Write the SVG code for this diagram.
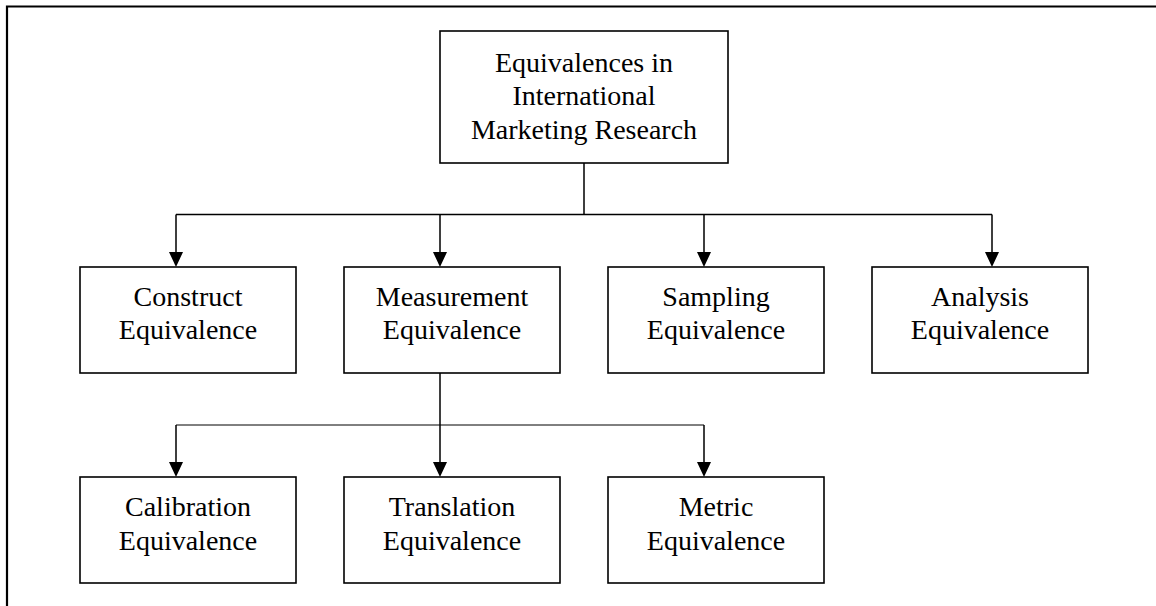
<svg xmlns="http://www.w3.org/2000/svg" width="1156" height="606" viewBox="0 0 1156 606">
<style>
.box{fill:#fff;stroke:#000;stroke-width:1.6}
.t{font-family:"Liberation Serif","Times New Roman",serif;font-size:28px;fill:#000;text-anchor:middle}
.c{fill:none;stroke:#000;stroke-width:1.5}
.thin{fill:none;stroke:#000;stroke-width:1}
.ah{fill:#000}
</style>
<rect width="1156" height="606" fill="#fff"/>
<path d="M7,606 V6.5 H1156" fill="none" stroke="#000" stroke-width="2.2"/>
<g id="connectors">
<path class="c" d="M584,163 V214.5 M176,214.5 H992 M176,214.5 V253 M440,214.5 V253 M704,214.5 V253 M992,214.5 V253"/>
<polygon class="ah" points="169,252 183,252 176,267"/>
<polygon class="ah" points="433,252 447,252 440,267"/>
<polygon class="ah" points="697,252 711,252 704,267"/>
<polygon class="ah" points="985,252 999,252 992,267"/>
<path class="c" d="M440,373 V463 M176,425 V463 M704,425 V463"/>
<path class="thin" d="M176,425 H704"/>
<polygon class="ah" points="169,462 183,462 176,477"/>
<polygon class="ah" points="433,462 447,462 440,477"/>
<polygon class="ah" points="697,462 711,462 704,477"/>
</g>
<g id="root">
<rect class="box" x="440" y="31" width="288" height="132"/>
<text class="t" x="584" y="72">Equivalences in</text>
<text class="t" x="584" y="105">International</text>
<text class="t" x="584" y="139">Marketing Research</text>
</g>
<g id="construct">
<rect class="box" x="80" y="267" width="216" height="106"/>
<text class="t" x="188" y="306">Construct</text>
<text class="t" x="188" y="339">Equivalence</text>
</g>
<g id="measurement">
<rect class="box" x="344" y="267" width="216" height="106"/>
<text class="t" x="452" y="306">Measurement</text>
<text class="t" x="452" y="339">Equivalence</text>
</g>
<g id="sampling">
<rect class="box" x="608" y="267" width="216" height="106"/>
<text class="t" x="716" y="306">Sampling</text>
<text class="t" x="716" y="339">Equivalence</text>
</g>
<g id="analysis">
<rect class="box" x="872" y="267" width="216" height="106"/>
<text class="t" x="980" y="306">Analysis</text>
<text class="t" x="980" y="339">Equivalence</text>
</g>
<g id="calibration">
<rect class="box" x="80" y="477" width="216" height="106"/>
<text class="t" x="188" y="516">Calibration</text>
<text class="t" x="188" y="550">Equivalence</text>
</g>
<g id="translation">
<rect class="box" x="344" y="477" width="216" height="106"/>
<text class="t" x="452" y="516">Translation</text>
<text class="t" x="452" y="550">Equivalence</text>
</g>
<g id="metric">
<rect class="box" x="608" y="477" width="216" height="106"/>
<text class="t" x="716" y="516">Metric</text>
<text class="t" x="716" y="550">Equivalence</text>
</g>
</svg>
